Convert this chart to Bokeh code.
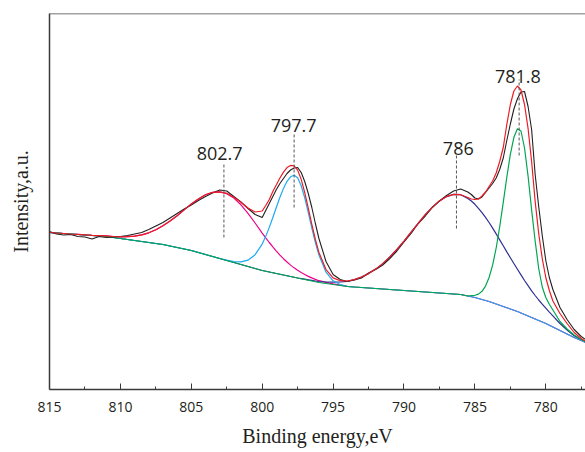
from bokeh.plotting import figure
from bokeh.models import Range1d, FixedTicker, Span
from bokeh.core.properties import value
from bokeh.embed import file_html
from bokeh.resources import INLINE

# Binding energy grid (eV) - finer near the two sharp peaks
energy = [815.0, 814.5, 814.0, 813.5, 813.0, 812.5, 812.0, 811.5, 811.0, 810.5,
          810.0, 809.5, 809.0, 808.5, 808.0, 807.5, 807.0, 806.5, 806.0, 805.5,
          805.0, 804.5, 804.0, 803.5, 803.0, 802.5, 802.0, 801.5, 801.0, 800.5, 800.0,
          799.75, 799.5, 799.25, 799.0, 798.75, 798.5, 798.25, 798.0,
          797.75, 797.5, 797.25, 797.0, 796.75, 796.5, 796.25, 796.0,
          795.5, 795.0, 794.5, 794.0, 793.5, 793.0, 792.5, 792.0, 791.5, 791.0,
          790.5, 790.0, 789.5, 789.0, 788.5, 788.0, 787.5, 787.0, 786.5, 786.0, 785.5,
          785.25, 785.0, 784.75, 784.5, 784.25, 784.0, 783.75, 783.5, 783.25, 783.0,
          782.75, 782.5, 782.25, 782.0, 781.75, 781.5, 781.25, 781.0, 780.75, 780.5,
          780.25, 780.0, 779.75, 779.5,
          779.0, 778.5, 778.0, 777.5, 777.0]

# Shirley background (a.u.)
background = [157, 156.5, 156, 155.5, 155, 154.5, 154, 153.5, 153, 152,
              151, 150, 149, 148, 147, 146, 145, 143.5, 142, 140.5,
              139, 137, 135, 133, 131, 129, 127, 125, 123, 121, 119,
              118.25, 117.5, 116.75, 116, 115.25, 114.5, 113.75, 113,
              112.25, 111.5, 110.75, 110, 109.25, 108.5, 107.75, 107,
              106, 105, 104, 103, 102.5, 102, 101.5, 101, 100.5, 100,
              99.5, 99, 98.5, 98, 97.5, 97, 96.5, 96, 95.5, 95, 93.5,
              92.75, 92, 91, 90, 89, 88, 86.75, 85.5, 84.25, 83,
              81.75, 80.5, 79.25, 78, 76.5, 75, 73.5, 72, 70.5, 69,
              67.5, 66, 64.25, 62.5,
              59, 55.5, 52, 49, 46]

# Component peaks, height above the background (a.u.)
peak_8027 = [0, 0, 0, 0, 0.1, 0.2, 0.2, 0.4, 0.6, 1.0,
             1.7, 2.8, 4.4, 6.7, 9.7, 13.8, 18.8, 24.9, 31.7, 39.1,
             46.6, 53.6, 59.7, 64.1, 66.6, 66.8, 64.4, 59.7, 53.2, 45.5, 37.4,
             33.4, 29.5, 25.9, 22.4, 19.2, 16.3, 13.7, 11.4,
             9.4, 7.7, 6.2, 5.0, 3.9, 3.1, 2.4, 1.8,
             1.1, 0.6, 0.3, 0.2, 0, 0, 0, 0, 0, 0,
             0, 0, 0, 0, 0, 0, 0, 0, 0, 0, 0,
             0, 0, 0, 0, 0, 0, 0, 0, 0, 0,
             0, 0, 0, 0, 0, 0, 0, 0, 0, 0,
             0, 0, 0, 0,
             0, 0, 0, 0, 0]

peak_7977 = [0, 0, 0, 0, 0, 0, 0, 0, 0, 0,
             0, 0, 0, 0, 0, 0, 0, 0, 0, 0,
             0, 0, 0, 0, 0, 0.3, 0.9, 2.6, 6.3, 13.8, 26.4,
             34.9, 44.6, 55.3, 66.3, 77.0, 86.6, 94.4, 99.7,
             102.0, 100.2, 93.0, 81.6, 67.7, 53.0, 39.2, 27.4,
             11.3, 3.7, 1.0, 0.2, 0, 0, 0, 0, 0, 0,
             0, 0, 0, 0, 0, 0, 0, 0, 0, 0, 0,
             0, 0, 0, 0, 0, 0, 0, 0, 0, 0,
             0, 0, 0, 0, 0, 0, 0, 0, 0, 0,
             0, 0, 0, 0,
             0, 0, 0, 0, 0]

peak_786 = [0, 0, 0, 0, 0, 0, 0, 0, 0, 0,
            0, 0, 0, 0, 0, 0, 0, 0, 0, 0,
            0, 0, 0, 0, 0, 0, 0, 0, 0, 0, 0,
            0, 0, 0, 0, 0, 0, 0, 0,
            0, 0, 0.15, 0.3, 0.45, 0.6, 0.75, 0.9,
            1.5, 2.3, 3.5, 5.1, 7.4, 10.5, 14.4, 19.4, 25.4, 32.6,
            40.6, 49.4, 58.8, 68.2, 77.3, 85.4, 92.1, 96.9, 99.6, 99.8, 97.6,
            95.7, 93.2, 90.2, 86.8, 83.1, 79.0, 74.6, 70.1, 65.4, 60.7,
            55.9, 51.3, 46.7, 42.3, 38.1, 34.0, 30.3, 26.7, 23.5, 20.5,
            17.8, 15.3, 13.1, 11.2,
            7, 4, 1.8, 0.7, 0]

peak_7818 = [0, 0, 0, 0, 0, 0, 0, 0, 0, 0,
             0, 0, 0, 0, 0, 0, 0, 0, 0, 0,
             0, 0, 0, 0, 0, 0, 0, 0, 0, 0, 0,
             0, 0, 0, 0, 0, 0, 0, 0,
             0, 0, 0, 0, 0, 0, 0, 0,
             0, 0, 0, 0, 0, 0, 0, 0, 0, 0,
             0, 0, 0, 0, 0, 0, 0, 0, 0, 0, 0,
             1.1, 2.2, 4.4, 8.2, 14.4, 24.0, 37.7, 56.0, 78.5, 104.2,
             130.5, 154.6, 172.9, 182.8, 182, 166.5, 140, 107.6, 78, 52,
             35, 26, 21, 17,
             9, 5, 2.5, 1, 0.3]

# Fitted envelope (a.u.)
fit = [157, 156.5, 156, 155.5, 155.1, 154.7, 154.2, 153.9, 153.6, 153.0,
       152.7, 152.8, 153.4, 154.7, 156.7, 159.8, 163.8, 168.4, 173.7, 179.6,
       185.6, 190.6, 194.7, 197.1, 197.6, 196.1, 192.3, 187.3, 181.5, 177.5, 178.5,
       184, 190, 198.0, 204.7, 211.5, 217.4, 221.9, 224.1,
       223.7, 219.4, 210.1, 196.9, 181.3, 165.2, 150.1, 137.1,
       119.9, 111.6, 108.8, 108.5, 109.9, 112.5, 115.9, 120.4, 125.9, 132.6,
       140.1, 148.4, 157.3, 166.2, 174.8, 182.4, 188.6, 192.9, 195.1, 194.8, 192,
       190.5, 190, 190.5, 193.5, 197.5, 203, 208.5, 216.5, 228, 242,
       265, 285, 298.5, 303.5, 299.5, 285, 261, 228, 188, 156,
       131, 112, 99, 88.5,
       76, 66, 57, 51, 46.5]

# Measured spectrum (a.u.)
raw = [158, 155.5, 154.5, 155, 153, 152.5, 150.5, 153, 152, 152.5,
       153, 154, 155.5, 157, 160, 163.5, 167, 171.5, 176, 180.5,
       184.5, 189, 193, 196.5, 199.5, 198.5, 193, 187.5, 181, 175, 172,
       179, 186, 193, 200, 206, 211, 216, 219.5,
       221.5, 222, 217, 208, 196, 182, 166, 151,
       128, 115, 110, 108, 109.5, 111.5, 116.5, 120, 124.5, 131,
       138.5, 147.5, 156, 166, 173.5, 182, 188.5, 194, 198.5, 200.5, 197.5,
       195, 191.5, 190.5, 192.5, 197, 201.5, 206, 211.5, 220, 231.5,
       249, 265.5, 280.5, 290.7, 297.5, 298, 283, 260, 215, 183,
       154, 129, 112, 100,
       82, 70, 60, 53, 48]

# Peak markers
marker_text = ["802.7", "797.7", "786", "781.8"]
marker_x = [802.7, 797.75, 786.3, 781.88]
marker_low = [152, 182, 161, 234]
marker_high = [226, 257, 236, 310]
marker_text_x = [803.0, 797.78, 786.17, 781.97]
marker_text_y = [236, 264, 241, 313]

x_ticks = [815, 810, 805, 800, 795, 790, 785, 780]
x_minor = [812.5, 807.5, 802.5, 797.5, 792.5, 787.5, 782.5, 777.5]

n = len(energy)
for arr in (background, peak_8027, peak_7977, peak_786, peak_7818, fit, raw):
    assert len(arr) == n, len(arr)

comp_m = [b + v for b, v in zip(background, peak_8027)]
comp_c = [b + v for b, v in zip(background, peak_7977)]
comp_n = [b + v for b, v in zip(background, peak_786)]
comp_g = [b + v for b, v in zip(background, peak_7818)]

p = figure(width=585, height=452, x_range=Range1d(815, 777.2), y_range=Range1d(0, 376),
           output_backend="svg", toolbar_location=None,
           min_border_left=49, min_border_right=0, min_border_top=13, min_border_bottom=63)
p.background_fill_color = "white"
p.border_fill_color = "white"
p.outline_line_color = None
p.xgrid.visible = False
p.ygrid.visible = False

lw = 1.2
p.line(energy, comp_m, line_color="#ec008c", line_width=lw)
p.line(energy, comp_n, line_color="#2e3192", line_width=lw)
p.line(energy, comp_c, line_color="#1eaaf1", line_width=lw)
p.line(energy, comp_g, line_color="#00a651", line_width=lw)
p.line(energy, raw, line_color="#231f20", line_width=1.1)
p.line(energy, fit, line_color="#ed1c24", line_width=lw)

p.segment(x0=marker_x, y0=marker_low, x1=marker_x, y1=marker_high,
          line_color="#555555", line_width=1, line_dash="3 2")
p.text(x=marker_text_x, y=marker_text_y, text=marker_text,
       text_font=value("Open Sans"), text_font_size="18px",
       text_align="center", text_baseline="alphabetic", text_color="#231f20")

p.add_layout(Span(location=376, dimension="width", line_color="#444444", line_width=1.5))

xa = p.xaxis[0]
xa.ticker = FixedTicker(ticks=x_ticks, minor_ticks=x_minor)
xa.major_tick_in = 6
xa.major_tick_out = 0
xa.minor_tick_in = 3
xa.minor_tick_out = 0
xa.axis_line_color = "#3a3a3a"
xa.axis_line_width = 1.5
xa.major_tick_line_color = "#3a3a3a"
xa.minor_tick_line_color = "#3a3a3a"
xa.major_label_text_font = "Open Sans"
xa.major_label_text_font_size = "14px"
xa.major_label_text_color = "#231f20"
xa.major_label_standoff = 12
xa.axis_label = "Binding energy,eV"
xa.axis_label_text_font = "Liberation Serif"
xa.axis_label_text_font_size = "20px"
xa.axis_label_text_font_style = "normal"
xa.axis_label_text_color = "#231f20"
xa.axis_label_standoff = 10

ya = p.yaxis[0]
ya.ticker = FixedTicker(ticks=[])
ya.major_tick_line_color = None
ya.minor_tick_line_color = None
ya.major_label_standoff = 0
ya.axis_line_color = "#3a3a3a"
ya.axis_line_width = 1.5
ya.axis_label = "Intensity,a.u."
ya.axis_label_text_font = "Liberation Serif"
ya.axis_label_text_font_size = "20px"
ya.axis_label_text_font_style = "normal"
ya.axis_label_text_color = "#231f20"
ya.axis_label_standoff = 18

open("out.html", "w").write(file_html(p, INLINE))
